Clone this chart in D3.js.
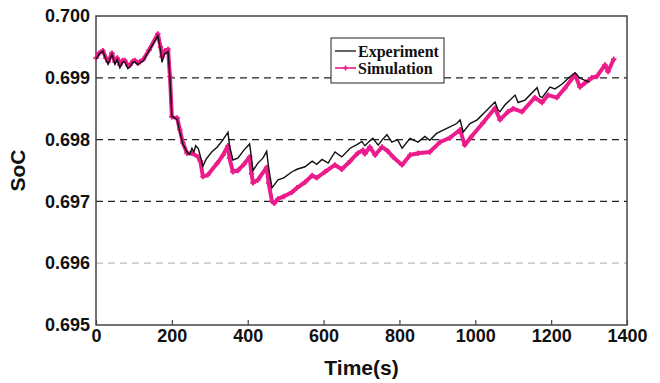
<!DOCTYPE html>
<html>
<head>
<meta charset="utf-8">
<script src="https://cdn.jsdelivr.net/npm/d3@7"></script>
<style>
  body { margin: 0; background: #fff; }
  svg { display: block; }
</style>
</head>
<body>
<div id="container"></div>
<script>
// values
const expTime = [0, 8, 18, 26, 32, 42, 50, 56, 63, 70, 76, 84, 90, 97, 103, 110, 116, 125, 140, 163,
    170, 174, 180, 190, 195, 200, 210, 214, 221, 229, 240, 247, 253, 258, 263, 270, 282, 290, 305, 320,
    335, 348, 352, 361, 374, 390, 405, 410, 414, 427, 440, 450, 455, 464, 480, 495, 517, 530, 551, 570,
    582, 596, 612, 630, 648, 670, 688, 701, 709, 722, 730, 744, 755, 767, 780, 795, 807, 828, 849, 867,
    880, 898, 925, 951, 960, 968, 986, 1005, 1031, 1052, 1060, 1065, 1078, 1105, 1113, 1131, 1163, 1170,
    1176, 1197, 1210, 1229, 1250, 1263, 1275, 1289, 1302];
const expSoc = [0.69930, 0.69938, 0.69943, 0.69930, 0.69922, 0.69938, 0.69922, 0.69930, 0.69916, 0.69925,
    0.69926, 0.69915, 0.69918, 0.69925, 0.69926, 0.69921, 0.69924, 0.69928, 0.69944, 0.69968,
    0.69945, 0.69925, 0.69938, 0.69942, 0.69900, 0.69838, 0.69834, 0.69832, 0.69812, 0.69793,
    0.69780, 0.69776, 0.69786, 0.69780, 0.69790, 0.69785, 0.69757, 0.69768, 0.69780, 0.69788,
    0.69800, 0.69812, 0.69790, 0.69767, 0.69770, 0.69783, 0.69793, 0.69770, 0.69750, 0.69762,
    0.69770, 0.69781, 0.69755, 0.69722, 0.69735, 0.69738, 0.69748, 0.69752, 0.69756, 0.69765,
    0.69760, 0.69768, 0.69762, 0.69780, 0.69772, 0.69786, 0.69792, 0.69797, 0.69790, 0.69798,
    0.69802, 0.69791, 0.69800, 0.69808, 0.69796, 0.69800, 0.69786, 0.69802, 0.69796, 0.69805,
    0.69799, 0.69810, 0.69818, 0.69826, 0.69832, 0.69812, 0.69826, 0.69832, 0.69848, 0.69861,
    0.69848, 0.69845, 0.69856, 0.69872, 0.69860, 0.69864, 0.69884, 0.69870, 0.69868, 0.69885,
    0.69882, 0.69890, 0.69902, 0.69908, 0.69900, 0.69896, 0.69893];

const simTime = [0, 8, 18, 26, 32, 42, 50, 56, 63, 70, 76, 84, 90, 97, 103, 110, 116, 125, 140, 163,
    170, 174, 182, 190, 195, 200, 214, 221, 229, 240, 253, 269, 275, 282, 295, 320, 335, 348, 352, 361,
    374, 390, 405, 410, 414, 427, 450, 455, 464, 470, 480, 495, 517, 530, 551, 570, 582, 604, 630, 648,
    670, 690, 704, 709, 722, 736, 754, 768, 783, 807, 828, 849, 880, 907, 933, 960, 972, 990, 1020, 1052,
    1065, 1086, 1100, 1123, 1157, 1176, 1192, 1215, 1236, 1263, 1276, 1290, 1307, 1320, 1342, 1350, 1365];
const simSoc = [0.69932, 0.69940, 0.69944, 0.69932, 0.69926, 0.69940, 0.69926, 0.69932, 0.69921, 0.69928,
    0.69928, 0.69920, 0.69921, 0.69927, 0.69928, 0.69924, 0.69926, 0.69930, 0.69945, 0.69971,
    0.69950, 0.69934, 0.69944, 0.69946, 0.69902, 0.69837, 0.69835, 0.69816, 0.69795, 0.69778,
    0.69778, 0.69772, 0.69765, 0.69740, 0.69743, 0.69762, 0.69775, 0.69790, 0.69770, 0.69748,
    0.69750, 0.69760, 0.69772, 0.69745, 0.69730, 0.69735, 0.69755, 0.69730, 0.69700, 0.69697,
    0.69704, 0.69708, 0.69715, 0.69722, 0.69731, 0.69742, 0.69738, 0.69748, 0.69759, 0.69752,
    0.69765, 0.69778, 0.69783, 0.69777, 0.69788, 0.69775, 0.69788, 0.69782, 0.69772, 0.69759,
    0.69775, 0.69778, 0.69780, 0.69796, 0.69803, 0.69816, 0.69791, 0.69805, 0.69827, 0.69851,
    0.69832, 0.69845, 0.69850, 0.69845, 0.69868, 0.69860, 0.69872, 0.69868, 0.69883, 0.69905,
    0.69885, 0.69892, 0.69900, 0.69902, 0.69921, 0.69910, 0.69930];

const xTicks = [0, 200, 400, 600, 800, 1000, 1200, 1400];
const yTicks = [0.695, 0.696, 0.697, 0.698, 0.699, 0.700];
const seriesNames = ['Experiment', 'Simulation'];

const width = 660;
const height = 383;
const margin = { top: 16, right: 33, bottom: 58, left: 96 };
const pink = '#ec1c8c';
const axisColor = '#444';

const svg = d3.select('#container').append('svg')
    .attr('width', width)
    .attr('height', height);

const x = d3.scaleLinear()
    .domain([0, 1400])
    .range([margin.left, width - margin.right]);
const y = d3.scaleLinear()
    .domain([0.695, 0.700])
    .range([height - margin.bottom, margin.top]);

// horizontal grid lines
const grid = svg.append('g');
grid.selectAll('line')
    .data(yTicks.filter(d => d > 0.695 && d < 0.700))
    .enter()
    .append('line')
    .attr('x1', x(0))
    .attr('x2', x(1400))
    .attr('y1', d => y(d))
    .attr('y2', d => y(d))
    .attr('stroke', d => d === 0.696 ? '#bbb' : '#222')
    .attr('stroke-width', 1.2)
    .attr('stroke-dasharray', '7,5');

// x axis
const xAxis = svg.append('g')
    .attr('transform', `translate(0,${y(0.695)})`)
    .call(d3.axisBottom(x).tickValues(xTicks).tickSize(-5).tickPadding(3).tickFormat(d3.format('d')));
xAxis.select('.domain').remove();
xAxis.selectAll('line').attr('stroke', axisColor).attr('stroke-width', 1.2);
xAxis.selectAll('text')
    .attr('fill', '#111')
    .attr('dy', '0.8em')
    .style('font', 'bold 18px "Liberation Sans", Arial, sans-serif');

// y axis
const yAxis = svg.append('g')
    .attr('transform', `translate(${x(0)},0)`)
    .call(d3.axisLeft(y).tickValues(yTicks).tickSize(0).tickPadding(6).tickFormat(d3.format('.3f')));
yAxis.select('.domain').remove();
yAxis.selectAll('text')
    .attr('fill', '#111')
    .style('font', 'bold 18px "Liberation Sans", Arial, sans-serif');

// frame
svg.append('rect')
    .attr('x', x(0))
    .attr('y', y(0.700))
    .attr('width', x(1400) - x(0))
    .attr('height', y(0.695) - y(0.700))
    .attr('fill', 'none')
    .attr('stroke', axisColor)
    .attr('stroke-width', 1.5);

// axis titles
svg.append('text')
    .attr('x', (x(0) + x(1400)) / 2)
    .attr('y', 375)
    .attr('text-anchor', 'middle')
    .attr('fill', '#111')
    .style('font', 'bold 21px "Liberation Sans", Arial, sans-serif')
    .text('Time(s)');
svg.append('text')
    .attr('transform', `translate(25,${(y(0.695) + y(0.700)) / 2}) rotate(-90)`)
    .attr('text-anchor', 'middle')
    .attr('fill', '#111')
    .style('font', 'bold 21px "Liberation Sans", Arial, sans-serif')
    .text('SoC');

const line = d3.line()
    .x(d => x(d[0]))
    .y(d => y(d[1]));

const simData = simTime.map((t, i) => [t, simSoc[i]]);
const expData = expTime.map((t, i) => [t, expSoc[i]]);

// simulation: thick pink line with cross markers
svg.append('path')
    .datum(simData)
    .attr('fill', 'none')
    .attr('stroke', pink)
    .attr('stroke-width', 4)
    .attr('stroke-linejoin', 'round')
    .attr('d', line);
svg.append('g')
    .selectAll('path')
    .data(simData)
    .enter()
    .append('path')
    .attr('transform', d => `translate(${x(d[0])},${y(d[1])})`)
    .attr('d', d3.symbol(d3.symbolCross, 16))
    .attr('fill', pink);

// experiment: thin black line
svg.append('path')
    .datum(expData)
    .attr('fill', 'none')
    .attr('stroke', '#111')
    .attr('stroke-width', 1.4)
    .attr('d', line);

// legend
const legend = svg.append('g').attr('transform', 'translate(331,38)');
legend.append('rect')
    .attr('width', 113)
    .attr('height', 45)
    .attr('fill', '#fff')
    .attr('stroke', '#222')
    .attr('stroke-width', 1);
const items = legend.selectAll('g.item')
    .data(seriesNames)
    .enter()
    .append('g')
    .attr('class', 'item')
    .attr('transform', (d, i) => `translate(0,${13 + i * 17})`);
items.append('line')
    .attr('x1', 4)
    .attr('x2', 25)
    .attr('stroke', (d, i) => i === 0 ? '#111' : pink)
    .attr('stroke-width', (d, i) => i === 0 ? 1.3 : 1.6);
items.filter((d, i) => i === 1)
    .append('path')
    .attr('transform', 'translate(14.5,0)')
    .attr('d', d3.symbol(d3.symbolCross, 14))
    .attr('fill', pink);
items.append('text')
    .attr('x', 27)
    .attr('dy', '0.35em')
    .attr('fill', '#111')
    .style('font', 'bold 16px "Liberation Serif", "Times New Roman", serif')
    .text(d => d);
</script>
</body>
</html>
